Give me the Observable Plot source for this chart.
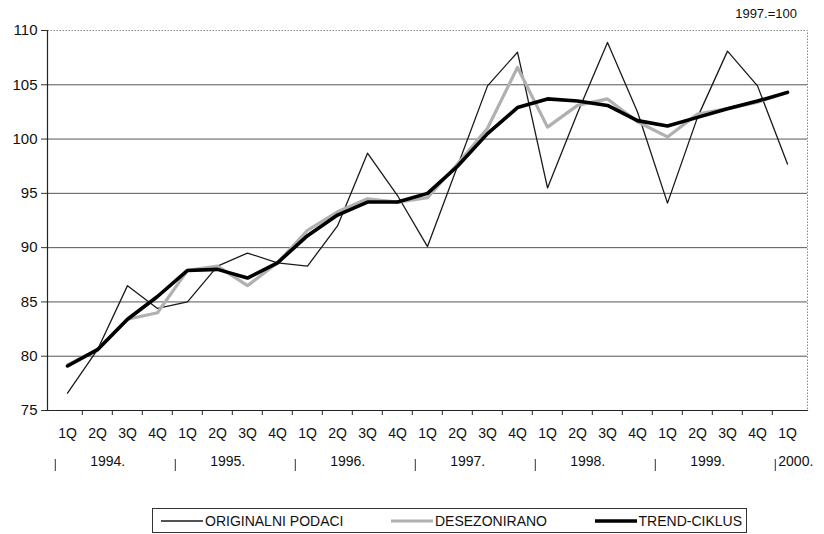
<!DOCTYPE html>
<html><head><meta charset="utf-8">
<script src="https://cdn.jsdelivr.net/npm/d3@7"></script>
<script src="https://cdn.jsdelivr.net/npm/@observablehq/plot@0.6"></script>
<style>
body{margin:0;background:#fff;font-family:"Liberation Sans",Arial,sans-serif;color:#111;}
#wrap{position:relative;width:824px;height:534px;overflow:hidden;}
#chart{position:absolute;left:0;top:0;}
#note{position:absolute;right:27px;top:6px;font-size:13px;}
#legend{position:absolute;left:152px;top:508px;width:581px;height:23px;border:1px solid #333;display:flex;align-items:center;justify-content:space-between;font-size:14px;padding:0 4px 0 8px;}
#legend .it{display:flex;align-items:center;}
#legend svg{margin-right:2px;}
</style></head><body>
<div id="wrap"><div id="chart"></div><div id="note">1997.=100</div><div id="legend"></div></div>
<script>
const years = [1994, 1995, 1996, 1997, 1998, 1999, 2000];
const quarterLabels = ["1Q", "2Q", "3Q", "4Q"];
const yearLabels = ["1994.", "1995.", "1996.", "1997.", "1998.", "1999.", "2000."];
const yTicks = [75, 80, 85, 90, 95, 100, 105, 110];

const originalni = [76.6, 80.6, 86.5, 84.4, 85.0, 88.3, 89.5, 88.6, 88.3, 92.0, 98.7, 94.8,
                    90.1, 97.5, 104.9, 108.0, 95.5, 102.4, 108.9, 102.5, 94.1, 102.0, 108.1, 104.9, 97.7];
const desezonirano = [79.2, 80.6, 83.4, 84.0, 87.9, 88.3, 86.5, 88.6, 91.6, 93.3, 94.5, 94.2,
                      94.6, 97.7, 101.0, 106.6, 101.1, 103.1, 103.7, 101.6, 100.2, 102.3, 102.8, 103.4, 104.3];
const trendCiklus = [79.1, 80.6, 83.4, 85.5, 87.9, 88.0, 87.2, 88.6, 91.1, 93.0, 94.2, 94.2,
                     95.0, 97.5, 100.5, 102.9, 103.7, 103.5, 103.1, 101.7, 101.2, 102.0, 102.8, 103.5, 104.3];

const seriesNames = ["ORIGINALNI PODACI", "DESEZONIRANO", "TREND-CIKLUS"];

// periods: 1994 1Q ... 2000 1Q
const periods = [];
years.forEach(y => quarterLabels.forEach((q, qi) => {
  if (periods.length < originalni.length) periods.push({key: y + "-" + q, year: y, q, qi});
}));
const rows = periods.map((p, i) => ({...p, orig: originalni[i], des: desezonirano[i], trend: trendCiklus[i]}));
const keys = periods.map(p => p.key);

const W = 824, H = 490, mL = 47, mR = 17, mT = 30, mB = 80;
const step = (W - mL - mR) / keys.length;

const yearStarts = periods.filter(p => p.qi === 0);
const yearMids = periods.filter(p => p.qi === 1 && p.year < 2000);

const chart = Plot.plot({
  width: W, height: H,
  marginLeft: mL, marginRight: mR, marginTop: mT, marginBottom: mB,
  style: {fontFamily: "Liberation Sans, Arial, sans-serif", fontSize: "14px", color: "#111", background: "#fff"},
  x: {type: "point", domain: keys, padding: 0.5, axis: null},
  y: {domain: [75, 110], axis: null},
  marks: [
    Plot.frame({stroke: "#888", strokeDasharray: "1.5,1.5"}),
    Plot.ruleY(yTicks.filter(v => v > 75 && v < 110), {stroke: "#555", strokeWidth: 1}),
    Plot.axisY({ticks: yTicks, tickSize: 6, tickPadding: 4, tickFormat: d => d, fontSize: 15, label: null, stroke: "#333"}),
    Plot.frame({anchor: "left", stroke: "#222", strokeWidth: 1.2}),
    Plot.frame({anchor: "bottom", stroke: "#222", strokeWidth: 1.2}),
    Plot.ruleX(keys.slice(1), {x: d => d, dx: -step / 2, insetTop: H - mT - mB, insetBottom: -5, stroke: "#222"}),
    Plot.line(rows, {x: "key", y: "orig", stroke: "#1a1a1a", strokeWidth: 1.3}),
    Plot.line(rows, {x: "key", y: "des", stroke: "#b0b0b0", strokeWidth: 3.2}),
    Plot.line(rows, {x: "key", y: "trend", stroke: "#000", strokeWidth: 3.6}),
    Plot.text(rows, {x: "key", text: "q", frameAnchor: "bottom", dy: 27, fontSize: 14, fill: "#111"}),
    // year separators "|"
    Plot.ruleX(yearStarts, {x: "key", dx: -step / 2 + 3, insetTop: 459 - mT, insetBottom: -(471 - (H - mB)), stroke: "#333", strokeWidth: 1}),
    Plot.text(yearMids, {x: "key", text: (d) => yearLabels[years.indexOf(d.year)], frameAnchor: "bottom", dx: step / 2 - 5, dy: 55, fontSize: 14, fill: "#111"}),
    Plot.text(periods.filter(p => p.year === 2000), {x: "key", text: (d) => yearLabels[years.indexOf(d.year)], frameAnchor: "bottom", textAnchor: "start", dx: -step / 2 + 6, dy: 55, fontSize: 14, fill: "#111"})
  ]
});
document.getElementById("chart").appendChild(chart);

// legend
const styles = [{stroke: "#1a1a1a", w: 1.3}, {stroke: "#b0b0b0", w: 3.2}, {stroke: "#000", w: 3.6}];
const leg = document.getElementById("legend");
seriesNames.forEach((name, i) => {
  const it = document.createElement("div");
  it.className = "it";
  it.innerHTML = `<svg width="42" height="10"><line x1="0" x2="42" y1="5" y2="5" stroke="${styles[i].stroke}" stroke-width="${styles[i].w}"/></svg><span>${name}</span>`;
  leg.appendChild(it);
});
</script>
</body></html>
